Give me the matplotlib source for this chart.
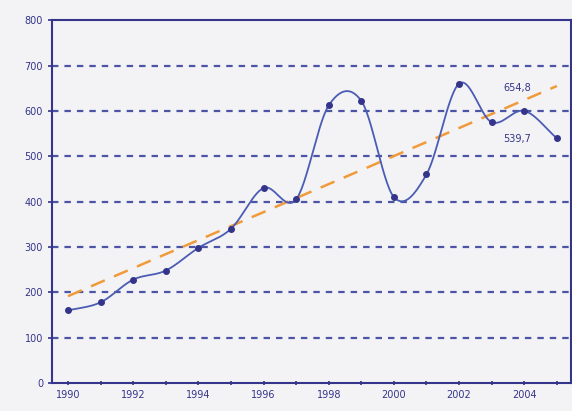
import matplotlib
matplotlib.use("Agg")
import matplotlib.pyplot as plt
import numpy as np

years = [1990, 1991, 1992, 1993, 1994, 1995, 1996, 1997,
         1998, 1999, 2000, 2001, 2002, 2003, 2004, 2005]
values = [160, 178, 228, 248, 298, 340, 430, 405,
          612, 622, 410, 460, 660, 575, 600, 539.7]
trend_start = 191.5
trend_end = 654.8

navy = "#34348a"
grid_blue = "#4c54a6"
line_blue = "#4a5cb4"


def smooth(x, y, n=30):
    # Catmull-Rom pass through every point, like a spreadsheet "smoothed line"
    x = np.asarray(x, float)
    y = np.asarray(y, float)
    px = np.concatenate([[2 * x[0] - x[1]], x, [2 * x[-1] - x[-2]]])
    py = np.concatenate([[2 * y[0] - y[1]], y, [2 * y[-1] - y[-2]]])
    t = np.linspace(0, 1, n)
    xs, ys = [], []
    for i in range(1, len(px) - 2):
        for p, out in ((px, xs), (py, ys)):
            p0, p1, p2, p3 = p[i - 1], p[i], p[i + 1], p[i + 2]
            out.append(0.5 * (2 * p1 + (-p0 + p2) * t
                              + (2 * p0 - 5 * p1 + 4 * p2 - p3) * t ** 2
                              + (-p0 + 3 * p1 - 3 * p2 + p3) * t ** 3))
    return np.concatenate(xs), np.concatenate(ys)


fig = plt.figure(figsize=(5.72, 4.11), dpi=100, facecolor="#f3f3f5")
ax = fig.add_axes([0.091, 0.068, 0.907, 0.883])
ax.set_facecolor("#f3f3f5")

for v in range(100, 800, 100):
    ax.axhline(v, color=grid_blue, lw=1.6, ls=(0, (2.9, 2.7)), zorder=1)

sx, sy = smooth(years, values)
ax.plot(sx, sy, color=line_blue, lw=1.3, zorder=3)
ax.plot(years, values, "o", color=navy, ms=4, zorder=4)

ax.plot([years[0], years[-1]], [trend_start, trend_end],
        color="#f09a3a", lw=1.8, ls=(0, (6, 4)), zorder=2)

ax.text(2003.35, 650, "654,8", fontsize=7, color=navy, va="center")
ax.text(2003.35, 537, "539,7", fontsize=7, color=navy, va="center")

ax.set_xlim(1989.51, 2005.43)
ax.set_ylim(0, 800)
ax.set_yticks(range(0, 900, 100))
ax.set_xticks(range(1990, 2006, 2))
ax.set_xticks(range(1990, 2006), minor=True)

for s in ax.spines.values():
    s.set_color(navy)
    s.set_linewidth(1.5)

ax.tick_params(axis="both", colors=navy, labelsize=7, width=1.2)
ax.tick_params(axis="x", which="both", length=3, direction="inout")
ax.tick_params(axis="x", which="minor", color=navy, width=1.2)
ax.tick_params(axis="y", length=3, direction="out")

fig.savefig("out.png", dpi=100, facecolor=fig.get_facecolor())
